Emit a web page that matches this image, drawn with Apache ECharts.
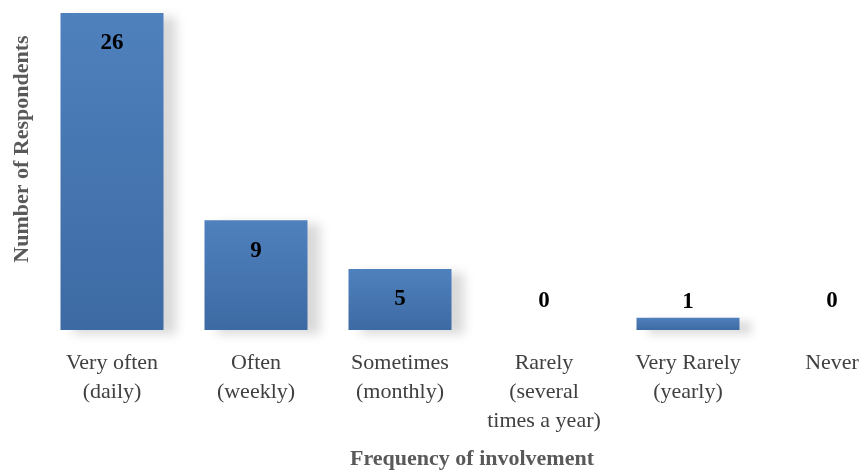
<!DOCTYPE html>
<html><head><meta charset="utf-8">
<script src="https://cdn.jsdelivr.net/npm/echarts@6/dist/echarts.min.js"></script>
<style>html,body{margin:0;padding:0;background:#fff;overflow:hidden}#c{width:904px;height:475px}</style>
</head><body><div id="c"></div>
<script>
const categories = ["Very often\n(daily)", "Often\n(weekly)", "Sometimes\n(monthly)", "Rarely\n(several\ntimes a year)", "Very Rarely\n(yearly)", "Never"];
const values = [26, 9, 5, 0, 1, 0];
const xTitle = "Frequency of involvement";
const yTitle = "Number of Respondents";

const FONT = "'Liberation Serif', 'DejaVu Serif', serif";
const chart = echarts.init(document.getElementById('c'), null, {renderer: 'canvas', width: 904, height: 475});
const data = values.map(v => ({
  value: v,
  label: v >= 3 ? {position: 'insideTop', distance: 19} : {position: 'top', distance: v === 0 ? 17 : 4}
}));
chart.setOption({
  animation: false,
  grid: {left: 40, top: 13, right: 0, bottom: 139, containLabel: false},
  xAxis: {
    type: 'category', data: categories,
    axisLine: {show: false}, axisTick: {show: false},
    axisLabel: {interval: 0, color: '#404040', fontFamily: FONT, fontSize: 22, lineHeight: 29, margin: 19},
    name: xTitle, nameLocation: 'middle', nameGap: 118,
    nameTextStyle: {color: '#595959', fontFamily: FONT, fontSize: 22, fontWeight: 'bold'}
  },
  yAxis: {type: 'value', min: 0, max: 26, show: false},
  graphic: [{
    type: 'text', x: 22, y: 149, rotation: Math.PI / 2,
    style: {text: yTitle, fill: '#595959', font: "bold 22px " + FONT, align: 'center', verticalAlign: 'middle'}
  }],
  series: [{
    type: 'bar', data: data, barWidth: 103,
    itemStyle: {
      color: new echarts.graphic.LinearGradient(0, 0, 0, 1, [
        {offset: 0, color: '#4f81bd'}, {offset: 1, color: '#3d6aa3'}
      ]),
      shadowColor: 'rgba(0,0,0,0.15)', shadowBlur: 10, shadowOffsetX: 12, shadowOffsetY: 4
    },
    label: {show: true, color: '#000', fontFamily: FONT, fontSize: 23, fontWeight: 'bold'}
  }]
});
</script></body></html>
